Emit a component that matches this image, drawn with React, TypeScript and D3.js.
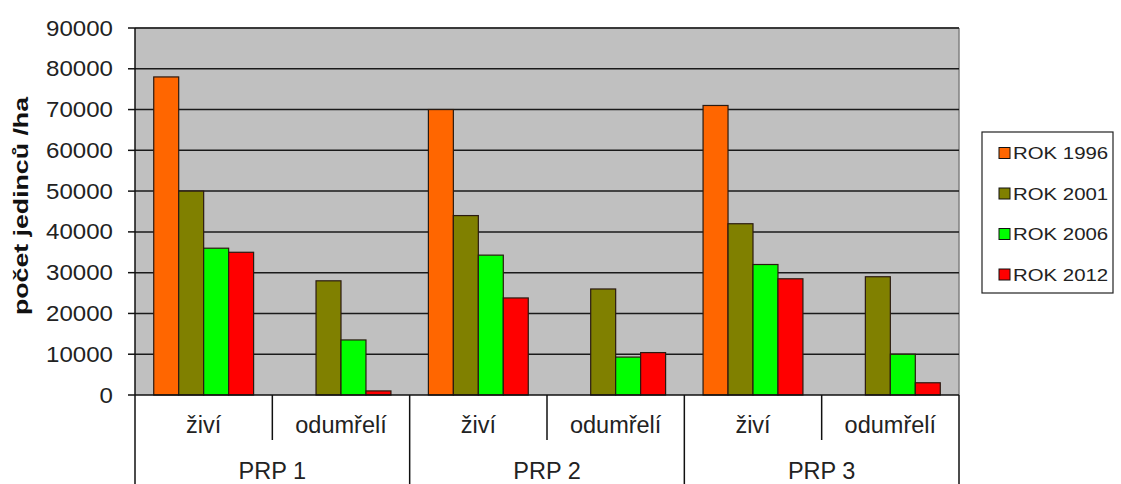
import React from "react";
import * as d3 from "d3";

const groups = ["PRP 1", "PRP 2", "PRP 3"];
const subCategories = ["živí", "odumřelí"];
const seriesNames = ["ROK 1996", "ROK 2001", "ROK 2006", "ROK 2012"];
const seriesColors = ["#FF6600", "#808000", "#00FF00", "#FF0000"];
// values per category: PRP1 živí, PRP1 odumřelí, PRP2 živí, PRP2 odumřelí, PRP3 živí, PRP3 odumřelí
const rok1996 = [78000, 0, 70000, 0, 71000, 0];
const rok2001 = [50000, 28000, 44000, 26000, 42000, 29000];
const rok2006 = [36000, 13500, 34300, 9300, 32000, 10000];
const rok2012 = [35000, 1000, 23800, 10400, 28500, 3000];
const yTicks = [0, 10000, 20000, 30000, 40000, 50000, 60000, 70000, 80000, 90000];
const yTitle = "počet jedinců /ha";

const W = 1121;
const H = 484;
const left = 135;
const right = 959;
const top = 28;
const bottom = 395;

export default function App() {
  const seriesValues = [rok1996, rok2001, rok2006, rok2012];
  const cats = groups.flatMap((g) => subCategories.map((s) => `${g}|${s}`));
  const x = d3.scaleBand<string>().domain(cats).range([left, right]).padding(0);
  const inner = d3
    .scaleBand<string>()
    .domain(seriesNames)
    .range([0, x.bandwidth()])
    .paddingInner(0)
    .paddingOuter(0.75);
  const y = d3.scaleLinear().domain([0, 90000]).range([bottom, top]);
  const groupWidth = x.bandwidth() * subCategories.length;

  const font = "'Liberation Sans', Arial, sans-serif";

  return (
    <svg
      width={W}
      height={H}
      style={{ position: "absolute", left: 0, top: 0, background: "#fff" }}
      fontFamily={font}
    >
      <rect x={left} y={top} width={right - left} height={bottom - top} fill="#C0C0C0" />
      {/* plot border top/right */}
      <line x1={left} x2={right} y1={top} y2={top} stroke="#808080" strokeWidth={1.5} />
      <line x1={right} x2={right} y1={top} y2={bottom} stroke="#808080" strokeWidth={1.5} />
      {/* gridlines */}
      {yTicks
        .filter((t) => t > 0)
        .map((t) => (
          <line key={t} x1={left} x2={right} y1={y(t)} y2={y(t)} stroke="#1a1a1a" strokeWidth={1.5} />
        ))}
      {/* bars */}
      {seriesValues.map((vals, si) =>
        vals.map((v, ci) =>
          v > 0 ? (
            <rect
              key={`${si}-${ci}`}
              x={(x(cats[ci]) as number) + (inner(seriesNames[si]) as number)}
              y={y(v)}
              width={inner.bandwidth()}
              height={y(0) - y(v)}
              fill={seriesColors[si]}
              stroke="#2a1a10"
              strokeWidth={1.2}
            />
          ) : null
        )
      )}
      {/* y axis */}
      <line x1={left} x2={left} y1={top} y2={bottom} stroke="#111" strokeWidth={1.5} />
      {yTicks.map((t) => (
        <g key={t}>
          <line x1={left - 7} x2={left} y1={y(t)} y2={y(t)} stroke="#111" strokeWidth={1.5} />
          <text
            transform={`translate(113,${y(t) + 7.5}) scale(1.12,1)`}
            textAnchor="end"
            fontSize={21.5}
            fill="#222"
          >
            {t}
          </text>
        </g>
      ))}
      <text
        transform={`translate(28,206) rotate(-90)`}
        textAnchor="middle"
        fontSize={21}
        fontWeight="bold"
        fill="#111"
        textLength={218}
        lengthAdjust="spacingAndGlyphs"
      >
        {yTitle}
      </text>
      {/* x axis */}
      <line x1={left} x2={right} y1={bottom} y2={bottom} stroke="#111" strokeWidth={1.5} />
      {cats.map((c, i) => {
        const x0 = x(c) as number;
        const isGroupStart = i % subCategories.length === 0;
        return (
          <g key={c}>
            <line
              x1={x0}
              x2={x0}
              y1={bottom}
              y2={isGroupStart ? H : 440}
              stroke="#111"
              strokeWidth={1.5}
            />
            <text x={x0 + x.bandwidth() / 2} y={433} textAnchor="middle" fontSize={23.5} fill="#222">
              {c.split("|")[1]}
            </text>
          </g>
        );
      })}
      <line x1={right} x2={right} y1={bottom} y2={H} stroke="#111" strokeWidth={1.5} />
      {groups.map((g, gi) => (
        <text
          key={g}
          x={left + gi * groupWidth + groupWidth / 2}
          y={479}
          textAnchor="middle"
          fontSize={23.5}
          fill="#222"
        >
          {g}
        </text>
      ))}
      {/* legend */}
      <rect x={982} y={132} width={131} height={161} fill="#fff" stroke="#222" strokeWidth={1.2} />
      {seriesNames.map((s, i) => {
        const cy = 153 + i * 40.5;
        return (
          <g key={s}>
            <rect x={999} y={cy - 5.5} width={11} height={11} fill={seriesColors[i]} stroke="#111" strokeWidth={1} />
            <text transform={`translate(1013,${cy + 6}) scale(1.2,1)`} fontSize={17} fill="#222">
              {s}
            </text>
          </g>
        );
      })}
    </svg>
  );
}
